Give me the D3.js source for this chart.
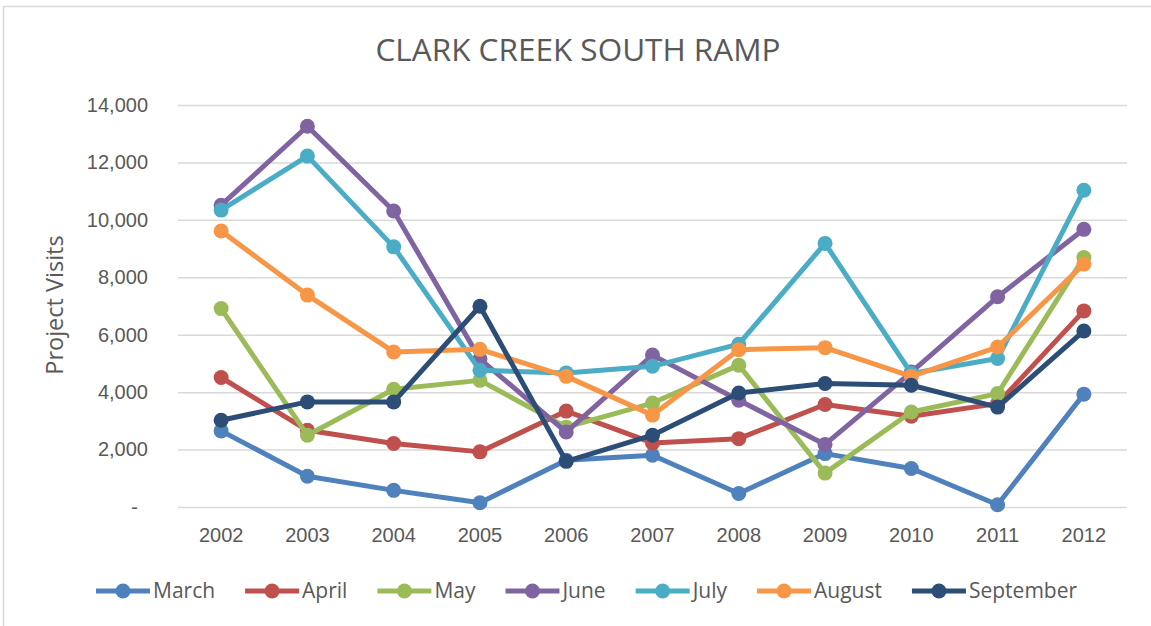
<!DOCTYPE html>
<html>
<head>
<meta charset="utf-8">
<script src="https://cdn.jsdelivr.net/npm/d3@7"></script>
<style>
  body { margin: 0; background: #fff; }
  svg { display: block; font-family: "Open Sans", sans-serif; }
  text { fill: #595959; }
</style>
</head>
<body>
<svg id="chart" width="1151" height="626"></svg>
<script>
// chart data
var years = ["2002", "2003", "2004", "2005", "2006", "2007", "2008", "2009", "2010", "2011", "2012"];
var march     = [2650, 1070, 580, 150, 1630, 1800, 470, 1860, 1340, 80, 3930];
var april     = [4510, 2670, 2210, 1920, 3340, 2230, 2380, 3570, 3160, 3600, 6830];
var may       = [6910, 2500, 4100, 4410, 2780, 3620, 4940, 1180, 3310, 3950, 8690];
var june      = [10510, 13260, 10310, 5150, 2610, 5290, 3720, 2180, 4700, 7320, 9670];
var july      = [10340, 12220, 9060, 4760, 4670, 4900, 5670, 9180, 4650, 5170, 11030];
var august    = [9610, 7380, 5400, 5490, 4550, 3200, 5480, 5550, 4550, 5570, 8460];
var september = [3020, 3660, 3660, 6990, 1590, 2500, 3970, 4300, 4240, 3480, 6130];
var yTicks = [0, 2000, 4000, 6000, 8000, 10000, 12000, 14000];

var series = [
  {name: "March", values: march, color: "#4F81BD"},
  {name: "April", values: april, color: "#C0504D"},
  {name: "May", values: may, color: "#9BBB59"},
  {name: "June", values: june, color: "#8064A2"},
  {name: "July", values: july, color: "#4BACC6"},
  {name: "August", values: august, color: "#F79646"},
  {name: "September", values: september, color: "#2C4D75"}
];

var svg = d3.select("#chart"),
    margin = {top: 105, right: 24, bottom: 119, left: 178},
    width = 1151 - margin.left - margin.right,
    height = 626 - margin.top - margin.bottom;

// outer chart frame (runs off the right and bottom edges)
svg.append("rect")
    .attr("x", 3.5).attr("y", 6.5)
    .attr("width", 1200).attr("height", 700)
    .style("fill", "none")
    .style("stroke", "#d9d9d9")
    .style("stroke-width", 1.5);

svg.append("text")
    .attr("x", 578).attr("y", 61)
    .attr("text-anchor", "middle")
    .style("font-size", "31.5px")
    .text("CLARK CREEK SOUTH RAMP");

var g = svg.append("g").attr("transform", `translate(${margin.left},${margin.top})`);

var x = d3.scaleBand().domain(years).range([0, width]);
var y = d3.scaleLinear().domain([0, 14000]).range([height, 0]);

// y axis with gridlines
var yAxis = g.append("g")
    .call(d3.axisLeft(y).tickValues(yTicks).tickSize(-width).tickPadding(30)
      .tickFormat(function(d) { return d === 0 ? "-" : d3.format(",")(d); }));
yAxis.select(".domain").remove();
yAxis.selectAll(".tick line").style("stroke", "#d9d9d9").style("stroke-width", 1.5);
yAxis.selectAll(".tick text")
    .style("font-size", "20px").style("fill", "#595959")
    .attr("x", function(d) { return d === 0 ? -40 : -30; })
    .attr("font-family", null);

// x axis labels
var xAxis = g.append("g")
    .attr("transform", `translate(0,${height})`)
    .call(d3.axisBottom(x).tickSize(0).tickPadding(21))
xAxis.select(".domain").remove();
xAxis.selectAll(".tick text")
    .style("font-size", "20px").style("fill", "#595959")
    .attr("font-family", null);

svg.append("text")
    .attr("transform", "translate(63,305) rotate(-90)")
    .attr("text-anchor", "middle")
    .style("font-size", "23.5px")
    .text("Project Visits");

var line = d3.line()
    .x(function(d, i) { return x(years[i]) + x.bandwidth() / 2; })
    .y(function(d) { return y(d); });

var s = g.selectAll(".series")
  .data(series)
  .enter().append("g")
    .attr("class", "series");

s.append("path")
    .attr("d", function(d) { return line(d.values); })
    .style("fill", "none")
    .style("stroke", function(d) { return d.color; })
    .style("stroke-width", 5)
    .style("stroke-linejoin", "round");

s.selectAll("circle")
  .data(function(d) { return d.values.map(function(v) { return {v: v, color: d.color}; }); })
  .enter().append("circle")
    .attr("cx", function(d, i) { return x(years[i]) + x.bandwidth() / 2; })
    .attr("cy", function(d) { return y(d.v); })
    .attr("r", 7.5)
    .style("fill", function(d) { return d.color; });

// legend
var legend = svg.append("g").attr("transform", "translate(96,591)");
var lx = 0;
series.forEach(function(d) {
  var item = legend.append("g").attr("transform", `translate(${lx},0)`);
  item.append("line")
      .attr("x1", 0).attr("x2", 54)
      .style("stroke", d.color).style("stroke-width", 5);
  item.append("circle").attr("cx", 27).attr("r", 7.5).style("fill", d.color);
  var t = item.append("text")
      .attr("x", 57).attr("dy", "0.35em")
      .style("font-size", "21px")
      .text(d.name);
  lx += 57 + t.node().getComputedTextLength() + 30;
});
</script>
</body>
</html>
